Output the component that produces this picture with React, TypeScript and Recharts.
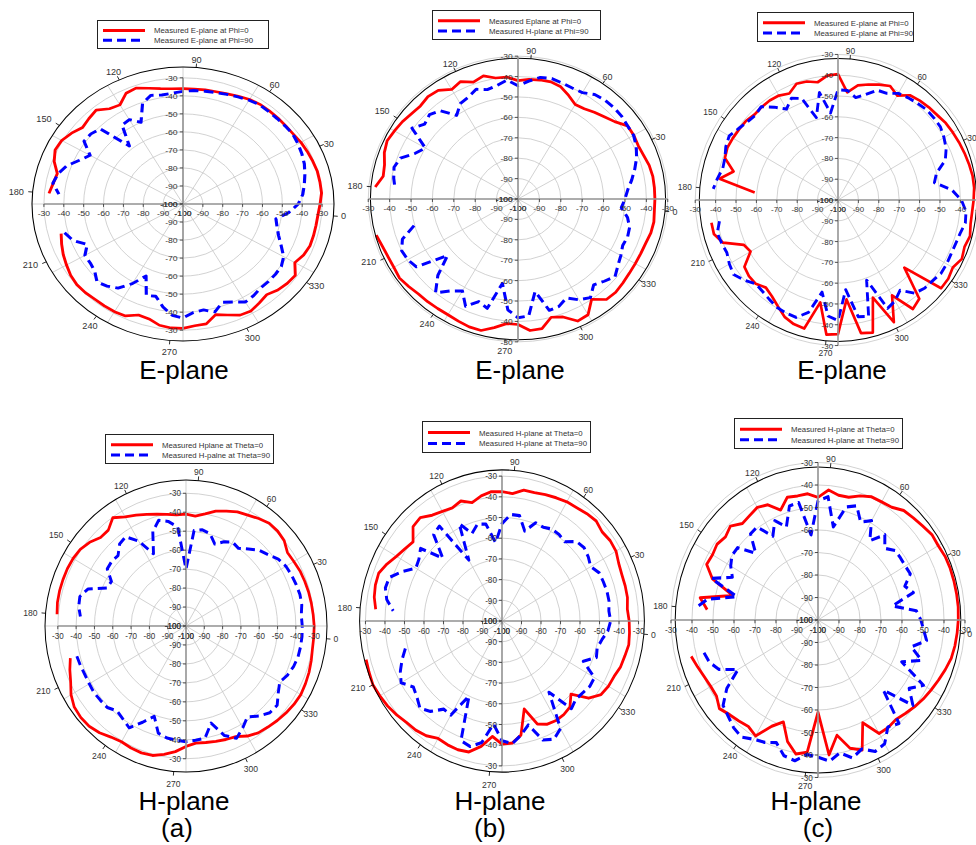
import React from 'react';
import { RadarChart, Radar, PolarGrid, PolarAngleAxis, PolarRadiusAxis } from 'recharts';

// angle categories (degrees, 0 = right, counter-clockwise)
const ANGLES = [
  0, 5, 10, 15, 20, 25, 30, 35, 40, 45, 50, 55,
  60, 65, 70, 75, 80, 85, 90, 95, 100, 105, 110, 115,
  120, 125, 130, 135, 140, 145, 150, 155, 160, 165, 170, 175,
  180, 185, 190, 195, 200, 205, 210, 215, 220, 225, 230, 235,
  240, 245, 250, 255, 260, 265, 270, 275, 280, 285, 290, 295,
  300, 305, 310, 315, 320, 325, 330, 335, 340, 345, 350, 355,
];
const GRID_ANGLES = [0, 30, 60, 90, 120, 150, 180, 210, 240, 270, 300, 330];
const RADIAL_TICKS = [-100, -90, -80, -70, -60, -50, -40, -30];
// the measured traces break around 180 deg, so the polygon starts just after the gap
const START_ANGLE = 185;

type V = number | null;

// (a) E-plane
const eA_phi0: V[] = [
  -30, -30, -30, -30.5, -31, -31.5, -32.3, -32.5, -32.5, -32.5, -32.5, -33,
  -34, -35, -35.5, -35.7, -36, -36, -35.8, -35, -33.5, -31.5, -32.2, -36.5,
  -35.5, -32, -33, -34, -31.5, -29.5, -29, -31, -34.5, -33.7, -32.3, null,
  null, null, -36.5, -35, -33.5, -32.3, -31, -30.3, -30.5, -31, -31, -31,
  -31.5, -34.5, -34, -31.7, -31, -31, -32.2, -32.5, -36.5, -34.5, -32, -31.5,
  -33, -34.4, -32.5, -31.5, -31, -35, -33, -32, -32, -32, -31.8, -31,
];
const eA_phi90: V[] = [
  -39.5, -38, -36.5, -35, -34, -33.2, -32.5, -32.8, -33, -33, -32.8, -33.5,
  -34.5, -35.3, -36, -36.5, -36.8, -37.5, -38.3, -38.6, -37.6, -40.5, -50, -46,
  -46.5, -58, -41, -39.5, -39.2, -46, -42.5, -37.8, -35, -33.5, -37.3, null,
  null, null, -38.3, -41, -46.8, -43, -43, -42, -38.8, -40.5, -43, -49,
  -56, -46, -47, -42, -38, -36.8, -39.6, -40.3, -38, -42, -40, -37.2,
  -38, -39.2, -39.2, -39.3, -39.6, -41.5, -45.5, -48.8, -51, -52.5, -46.5, -42,
];

// (b) E-plane
const eB_phi0: V[] = [
  -36, -36, -36.5, -37.5, -38, -37.5, -37.5, -41, -43, -44.5, -46, -46.5,
  -44, -41.5, -40.6, -40.8, -41.2, -42, -40, -39.8, -37.5, -39, -36.5, -38,
  -35, -34.5, -35.5, -35, -34, -33.3, -32.5, -33.5, -35.4, -36, -33, null,
  null, null, -31.4, -32.5, -33, -33, -32.4, -33.3, -34.2, -34.3, -34.5, -34.5,
  -34, -33.3, -33.3, -36, -38.7, -38.5, -35.3, -35.5, -40, -38.5, -34, -34.5,
  -40, -35.7, -35.4, -36, -36.5, -36.7, -36.7, -36.5, -35.7, -35.5, -36, -36,
];
const eB_phi90: V[] = [
  -48.5, -46, -43.5, -41, -39, -37.6, -37.5, -36.8, -36.6, -36.8, -37.5, -39.8,
  -40, -39.5, -38.9, -39.5, -42, -44.5, -41.5, -43.5, -44.5, -42.8, -45, -46,
  -50, -43.5, -41.5, -43, -39.5, -50, -47, -41.5, -40, -41, -42.3, null,
  null, null, -49.7, -42.5, -40, -40.5, -42, -57, -47, -40, -45, -48,
  -42, -46.5, -44.5, -58, -45.5, -41.8, -42.5, -54, -43.5, -44, -46.5, -43,
  -41, -45, -43, -40.8, -43, -44.5, -46, -45.5, -46, -48, -51.5, -50,
];

// (c) E-plane
const eC_phi0: V[] = [
  -33, -33, -33.5, -34, -34.5, -35, -35.5, -36.5, -37, -37.6, -38.5, -42,
  -39.5, -41, -42.5, -44, -48, -39.5, -40, -42.5, -41, -40.5, -43.5, -42,
  -41.6, -41.7, -42, -41, -40.8, -40.5, -40.2, -41, -47, -41, -59, null,
  null, -37, -37, -40, -49, -50.5, -44, -43, -43, -45, -43.5, -41,
  -38, -36.5, -36, -50, -35, -35.5, -52, -35, -34, -50, -35.2, -47,
  -36, -38, -54, -34, -34, -35, -33, -34, -33, -34, -34, -33.5,
];
const eC_phi90: V[] = [
  -44, -52, -50, -44, -41.5, -40, -38.7, -38.6, -38.6, -39.3, -40, -40.8,
  -43.4, -43.8, -47.5, -50, -47.1, -47, -58, -47.5, -59, -48, -46, -49.5,
  -45.5, -41.4, -42.5, -41.8, -40.3, -38.4, -39.3, -41, -41.5, -40, -38.6, null,
  null, -41, -38.7, -39.3, -39.9, -38.5, -37.5, -40, -43, -42.5, -41.5, -40.3,
  -40, -39.9, -44, -55, -44, -42, -56.7, -43, -42, -59, -42.5, -44,
  -47, -41.5, -40, -39.5, -38.4, -38.5, -38.8, -38.6, -38, -36.6, -37, -39.5,
];

// (a) H-plane
const hA_theta0: V[] = [
  -30.3, -30.5, -30.7, -31, -31.3, -32, -32.4, -30, -29.2, -29.3, -30.8, -32.5,
  -33.6, -35.5, -37.3, -40, -41.8, -41, -41.2, -40.2, -39, -37.3, -35.5, -33.5,
  -30.3, -34, -34, -31.3, -29.5, -28.8, -28.5, -28.5, -28.5, -28.7, -29.3, null,
  null, null, -34.6, -32.5, -30.5, -27.5, -25.5, -25, -25.2, -26.5, -28.5, -29.5,
  -29, -28.8, -29.3, -31.2, -33.5, -36.5, -38, -37.6, -37, -36.3, -35.6, -33,
  -31.2, -30.4, -29.5, -28.7, -28, -27.6, -28, -28.5, -29.2, -29.9, -30, -30,
];
const hA_theta90: V[] = [
  -36.8, -35.8, -35.6, -36, -36.4, -37, -38.5, -41.5, -43.5, -47, -50, -49,
  -51, -54, -49.5, -48.5, -49.5, -70, -47.5, -44, -42.3, -47, -58, -48.3,
  -42.5, -43.6, -47.5, -47, -47.5, -53, -52.5, -43, -40, -40.5, -42.1, null,
  null, null, -38.3, -38.7, -39.1, -39, -38.7, -39, -39.2, -41.5, -40, -38,
  -44, -49.3, -41.5, -40, -39.5, -39, -39.5, -40, -47, -38.5, -34.7, -38,
  -41.5, -38, -35.3, -35, -38.5, -40.9, -38.8, -37.5, -36.7, -36.5, -36.4, -36.5,
];

// (b) H-plane
const hB_theta0: V[] = [
  -35.5, -34.7, -34.6, -34.6, -34, -32.5, -32.3, -33, -31.7, -32.3, -33.2, -33.5,
  -34.3, -35, -35.8, -35.8, -38.2, -37.5, -37.3, -38.6, -40.8, -38.3, -39.7, -38.9,
  -37.6, -34.8, -35.5, -40.5, -39.2, -37.5, -34.9, -32.7, -32.8, -33.5, -35, null,
  null, null, -27.9, -27.5, -27, -27.7, -28.4, -29.5, -30.7, -31.2, -32.3, -34.5,
  -34, -33.8, -34.5, -38.5, -44, -40.5, -40.8, -44, -56, -47, -45, -44.5,
  -44.8, -45.8, -50, -42, -38, -37, -36.6, -35.3, -34.8, -34, -34.4, -34.8,
];
const hB_theta90: V[] = [
  -45, -44.3, -44.3, -44.7, -45, -47.5, -46, -45, -45.8, -50, -49, -48.7,
  -50, -49.5, -55, -48.3, -48.3, -53, -62, -52.5, -51.5, -55, -48, -66,
  -44, -45.5, -57, -45.5, -48, -49, -43.5, -38.5, -38.1, -40, -44, null,
  null, null, -48.7, -45.5, -42.5, -40.3, -44.5, -43, -40.5, -43, -48, -47.5,
  -60, -38.5, -37.2, -40.4, -50, -42.2, -40.5, -44, -48, -38.8, -37, -40,
  -58, -44.7, -46.5, -46, -45, -45.3, -54, -48.5, -49.5, -48, -45.5, -44.3,
];

// (c) H-plane
const hC_theta0: V[] = [
  -33, -33, -33, -33, -33.2, -33.9, -33.8, -35, -35.8, -36.5, -38.8, -39.4,
  -39.6, -41.3, -43.5, -43.7, -42, -45.5, -43.7, -44, -43.5, -48, -43.5, -42.2,
  -43.3, -44, -41, -42.5, -41.3, -42, -41.5, -46.5, -58, -43, -47, null,
  null, null, -37.5, -39, -40.3, -41, -41, -38.7, -40.5, -41.4, -42.2, -40.5,
  -47.9, -51.8, -44, -39.5, -41, -59, -39.8, -48, -41, -38.5, -49.6, -41.8,
  -41.7, -42.3, -41.2, -40, -38.8, -37.8, -36.7, -35.5, -34.3, -33.8, -33.5, -33.2,
];
const hC_theta90: V[] = [
  -53, -64, -53, -56, -51.5, -52, -52, -52, -55, -50.5, -57, -49,
  -52, -46, -48, -58, -45, -47, -62, -47, -47.5, -56, -51.3, -57,
  -49.5, -50, -58, -50, -50, -52, -55, -46, -60, -46.6, -41.2, null,
  null, null, -43.8, -45, -48, -56, -47, -41, -39.5, -37.5, -36.5, -38.8,
  -40, -42, -37.5, -36.5, -40, -39, -37, -40, -36.5, -39, -35.5, -36.5,
  -42, -40, -56, -41, -47, -42, -56, -47.5, -54, -47.5, -49.5, -51,
];

const FONT = 'Arial, "Liberation Sans", Helvetica, sans-serif';
const SIZE = 340;
const C = SIZE / 2;
const R = 140;
const TICK = 5;
const RED = '#ff0000';
const BLUE = '#0000ff';

type Panel = {
  id: string;
  red: V[];
  blue: V[];
  redLabel: string;
  blueLabel: string;
  max: number;
  cx: number;
  cy: number;
  rh: number;
  rv: number;
  legend: { x: number; y: number; w: number; h: number };
};

const PANELS: Panel[] = [
  { id: 'ea', red: eA_phi0, blue: eA_phi90, redLabel: 'Measured E-plane at Phi=0', blueLabel: 'Measured E-plane at Phi=90',
    max: -24, cx: 182.7, cy: 204, rh: 151, rv: 137, legend: { x: 97, y: 20, w: 172, h: 29 } },
  { id: 'eb', red: eB_phi0, blue: eB_phi90, redLabel: 'Measured Eplane at Phi=0', blueLabel: 'Measured H-plane at Phi=90',
    max: -32, cx: 518.3, cy: 199.3, rh: 147.6, rv: 140.8, legend: { x: 432, y: 10, w: 169, h: 30 } },
  { id: 'ec', red: eC_phi0, blue: eC_phi90, redLabel: 'Measured E-plane at Phi=0', blueLabel: 'Measured E-plane at Phi=90',
    max: -32, cx: 838.3, cy: 200, rh: 138.7, rv: 141.4, legend: { x: 757, y: 12, w: 157, h: 30 } },
  { id: 'ha', red: hA_theta0, blue: hA_theta90, redLabel: 'Measured Hplane at Theta=0', blueLabel: 'Measured H-palne at Theta=90',
    max: -23, cx: 186, cy: 626, rh: 141, rv: 146, legend: { x: 105, y: 434, w: 169, h: 30 } },
  { id: 'hb', red: hB_theta0, blue: hB_theta90, redLabel: 'Measured H-plane at Theta=0', blueLabel: 'Measured H-plane at Theta=90',
    max: -27, cx: 501.7, cy: 620.7, rh: 142.4, rv: 151.1, legend: { x: 422, y: 421, w: 169, h: 32 } },
  { id: 'hc', red: hC_theta0, blue: hC_theta90, redLabel: 'Measured H-plane at Theta=0', blueLabel: 'Measured H-plane at Theta=90',
    max: -32, cx: 817.7, cy: 620, rh: 142.8, rv: 153, legend: { x: 734, y: 418, w: 169, h: 31 } },
];

const CAPTIONS = [
  { text: 'E-plane', x: 184, y: 379 },
  { text: 'E-plane', x: 520, y: 379 },
  { text: 'E-plane', x: 842, y: 379 },
  { text: 'H-plane', x: 184, y: 810 },
  { text: 'H-plane', x: 500, y: 810 },
  { text: 'H-plane', x: 816, y: 810 },
  { text: '(a)', x: 177, y: 837 },
  { text: '(b)', x: 490, y: 837 },
  { text: '(c)', x: 818, y: 837 },
];

function buildRows(red: V[], blue: V[]) {
  const i0 = ANGLES.indexOf(START_ANGLE);
  const order = [...ANGLES.slice(i0), ...ANGLES.slice(0, i0)];
  return order.map((angle) => {
    const i = ANGLES.indexOf(angle);
    return { angle, red: red[i], blue: blue[i] };
  });
}

// open trace through the radar points, lifting the pen where the measurement is missing
const makeTrace = (color: string, width: number, dash?: string) => (props: any) => {
  const pts = props.points ?? [];
  let d = '';
  let pen = false;
  for (const pt of pts) {
    if (pt.value == null || !Number.isFinite(pt.x) || !Number.isFinite(pt.y)) {
      pen = false;
      continue;
    }
    d += `${pen ? 'L' : 'M'}${pt.x.toFixed(2)},${pt.y.toFixed(2)}`;
    pen = true;
  }
  return (
    <path d={d} fill="none" stroke={color} strokeWidth={width} strokeDasharray={dash}
      strokeLinejoin="round" strokeLinecap="butt" />
  );
};
const redTrace = makeTrace(RED, 2.7);
const blueTrace = makeTrace(BLUE, 2.9, '9 5');
const noTrace = () => <g />;

const ANGLE_NUDGE: Record<number, { anchor: 'start' | 'middle' | 'end'; dx: number; dy: number }> = {
  0: { anchor: 'start', dx: 2, dy: 3 },
  30: { anchor: 'start', dx: -1, dy: 3 },
  60: { anchor: 'start', dx: -3, dy: 0 },
  90: { anchor: 'middle', dx: 0, dy: 0 },
  120: { anchor: 'end', dx: 4, dy: 0 },
  150: { anchor: 'end', dx: -3, dy: -1 },
  180: { anchor: 'end', dx: -3, dy: 3 },
  210: { anchor: 'end', dx: -3, dy: 4 },
  240: { anchor: 'end', dx: 4, dy: 8.5 },
  270: { anchor: 'middle', dx: 0, dy: 10 },
  300: { anchor: 'start', dx: -4, dy: 8.5 },
  330: { anchor: 'start', dx: -2, dy: 4 },
};

const AngleTick = (props: any) => {
  const { x, y, payload } = props;
  const v = Number(payload?.value);
  const nudge = ANGLE_NUDGE[v];
  if (!nudge) return <g />;
  const cx = props.cx ?? C;
  const cy = props.cy ?? C;
  const len = Math.hypot(x - cx, y - cy) || 1;
  const ux = (x - cx) / len;
  const uy = (y - cy) / len;
  return (
    <g>
      <line x1={x - ux * TICK} y1={y - uy * TICK} x2={x - ux} y2={y - uy} stroke="#000" strokeWidth={0.8} />
      <text x={x + nudge.dx} y={y + nudge.dy} textAnchor={nudge.anchor} fontSize={8.5} fill="#333" fontFamily={FONT}>
        {v}
      </text>
    </g>
  );
};

const HorizontalRadialTick = (props: any) => {
  const { x, y, payload } = props;
  return (
    <g>
      <line x1={x} y1={y} x2={x} y2={y + 3} stroke="#333" strokeWidth={0.8} />
      <text x={x} y={y + 12} textAnchor="middle" fontSize={8} fill="#333" fontFamily={FONT}>
        {payload.value}
      </text>
    </g>
  );
};

const VerticalRadialTick = (props: any) => {
  const { x, y, payload } = props;
  return (
    <g>
      <line x1={x - 3} y1={y} x2={x} y2={y} stroke="#333" strokeWidth={0.8} />
      <text x={x - 5} y={y + 3} textAnchor="end" fontSize={8} fill="#333" fontFamily={FONT}>
        {payload.value}
      </text>
    </g>
  );
};

function LegendBox({ p }: { p: Panel }) {
  const { x, y, w, h } = p.legend;
  return (
    <svg
      width={w}
      height={h}
      style={{ position: 'absolute', left: x, top: y, overflow: 'visible' }}
    >
      <rect x={0.5} y={0.5} width={w - 1} height={h - 1} fill="#fff" stroke="#222" strokeWidth={1} />
      <line x1={6} x2={48} y1={h * 0.36} y2={h * 0.36} stroke={RED} strokeWidth={3} />
      <line x1={6} x2={48} y1={h * 0.7} y2={h * 0.7} stroke={BLUE} strokeWidth={3} strokeDasharray="9 5" />
      <text x={57} y={h * 0.36 + 3} fontSize={7.8} fill="#333" fontFamily={FONT}>{p.redLabel}</text>
      <text x={57} y={h * 0.7 + 3} fontSize={7.8} fill="#333" fontFamily={FONT}>{p.blueLabel}</text>
    </svg>
  );
}

const AXIS_LINE = { stroke: '#999', strokeWidth: 1.6 };

function PolarPanel({ p }: { p: Panel }) {
  const rows = buildRows(p.red, p.blue);
  const domain: [number, number] = [-100, p.max];
  return (
    <>
      <div
        style={{
          position: 'absolute',
          left: p.cx - C,
          top: p.cy - C,
          width: SIZE,
          height: SIZE,
          transform: `scale(${p.rh / R}, ${p.rv / R})`,
          transformOrigin: `${C}px ${C}px`,
        }}
      >
        <RadarChart
          width={SIZE}
          height={SIZE}
          data={rows}
          cx="50%"
          cy="50%"
          innerRadius={0}
          outerRadius={R}
          startAngle={START_ANGLE}
          endAngle={START_ANGLE + 360}
          margin={{ top: 0, right: 0, bottom: 0, left: 0 }}
        >
          <PolarGrid gridType="circle" polarAngles={GRID_ANGLES} stroke="#c8c8c8" strokeWidth={0.8} />
          <PolarAngleAxis
            dataKey="angle"
            tick={AngleTick}
            tickLine={false}
            tickSize={TICK}
            axisLineType="circle"
            axisLine={{ stroke: '#000', strokeWidth: 1 }}
          />
          <PolarRadiusAxis angle={0} type="number" domain={domain} ticks={RADIAL_TICKS}
            tick={HorizontalRadialTick} axisLine={AXIS_LINE} />
          <PolarRadiusAxis radiusAxisId="left" angle={180} type="number" domain={domain} ticks={RADIAL_TICKS}
            tick={HorizontalRadialTick} axisLine={AXIS_LINE} />
          <PolarRadiusAxis radiusAxisId="up" angle={90} type="number" domain={domain} ticks={RADIAL_TICKS}
            tick={VerticalRadialTick} axisLine={AXIS_LINE} />
          <PolarRadiusAxis radiusAxisId="down" angle={270} type="number" domain={domain} ticks={RADIAL_TICKS}
            tick={VerticalRadialTick} axisLine={AXIS_LINE} />
          {/* the extra radius axes only carry the mirrored tick labels of the reference */}
          <Radar radiusAxisId="left" dataKey="red" shape={noTrace} stroke="none" fill="none" isAnimationActive={false} />
          <Radar radiusAxisId="up" dataKey="red" shape={noTrace} stroke="none" fill="none" isAnimationActive={false} />
          <Radar radiusAxisId="down" dataKey="red" shape={noTrace} stroke="none" fill="none" isAnimationActive={false} />
          <Radar dataKey="red" shape={redTrace} stroke={RED} fill="none" isAnimationActive={false} />
          <Radar dataKey="blue" shape={blueTrace} stroke={BLUE} fill="none" isAnimationActive={false} />
        </RadarChart>
      </div>
      <LegendBox p={p} />
    </>
  );
}

export default function App() {
  return (
    <div
      style={{
        position: 'absolute',
        left: 0,
        top: 0,
        width: 976,
        height: 845,
        background: '#fff',
        overflow: 'hidden',
        fontFamily: FONT,
      }}
    >
      {PANELS.map((p) => (
        <PolarPanel key={p.id} p={p} />
      ))}
      {CAPTIONS.map((c, i) => (
        <div
          key={i}
          style={{
            position: 'absolute',
            left: c.x - 100,
            top: c.y - 21,
            width: 200,
            textAlign: 'center',
            fontSize: 26,
            lineHeight: '25px',
            color: '#000',
          }}
        >
          {c.text}
        </div>
      ))}
    </div>
  );
}
